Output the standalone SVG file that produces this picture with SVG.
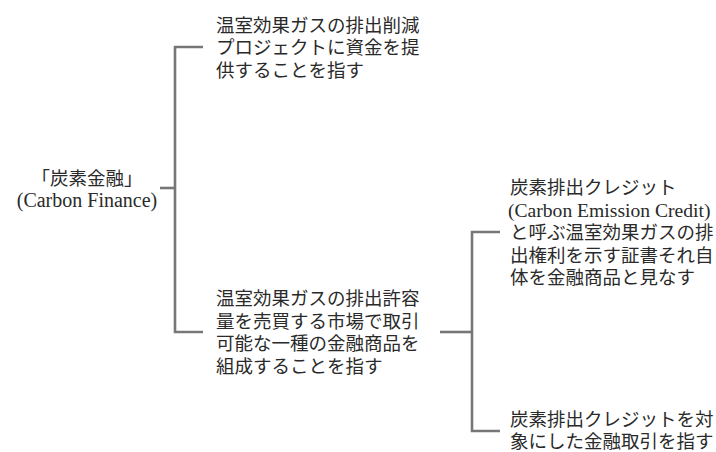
<svg xmlns="http://www.w3.org/2000/svg" width="716" height="452" viewBox="0 0 716 452">
  <style>
    .t { font-family: "Liberation Serif", "Noto Sans CJK JP", serif; font-size: 18.5px; fill: #2a2a2a; }
    .lat { font-size: 20px; }
    .lat2 { font-size: 19.6px; }
    .c { text-anchor: middle; }
    .ln { fill: none; stroke: #777777; stroke-width: 2.6; stroke-linejoin: miter; stroke-linecap: butt; }
  </style>
  <rect width="716" height="452" fill="#ffffff"/>
  <g id="connectors">
    <path class="ln" d="M160,188 H175"/>
    <path class="ln" d="M203,47 H175 V332 H203"/>
    <path class="ln" d="M440,332 H472"/>
    <path class="ln" d="M500,232 H472 V431 H500"/>
  </g>
  <g id="root">
    <text class="t c" x="87" y="185">「炭素金融」</text>
    <text class="t lat c" x="87" y="207">(Carbon Finance)</text>
  </g>
  <g id="n1">
    <text class="t" x="216" y="31.5">温室効果ガスの排出削減</text>
    <text class="t" x="216" y="54">プロジェクトに資金を提</text>
    <text class="t" x="216" y="76.5">供することを指す</text>
  </g>
  <g id="n2">
    <text class="t" x="216" y="305">温室効果ガスの排出許容</text>
    <text class="t" x="216" y="327.5">量を売買する市場で取引</text>
    <text class="t" x="216" y="350">可能な一種の金融商品を</text>
    <text class="t" x="216" y="372.5">組成することを指す</text>
  </g>
  <g id="n3">
    <text class="t" x="510" y="194">炭素排出クレジット</text>
    <text class="t lat2" x="508" y="216.5">(Carbon Emission Credit)</text>
    <text class="t" x="510" y="239">と呼ぶ温室効果ガスの排</text>
    <text class="t" x="510" y="261.5">出権利を示す証書それ自</text>
    <text class="t" x="510" y="284">体を金融商品と見なす</text>
  </g>
  <g id="n4">
    <text class="t" x="510" y="426">炭素排出クレジットを対</text>
    <text class="t" x="510" y="447.5">象にした金融取引を指す</text>
  </g>
</svg>
